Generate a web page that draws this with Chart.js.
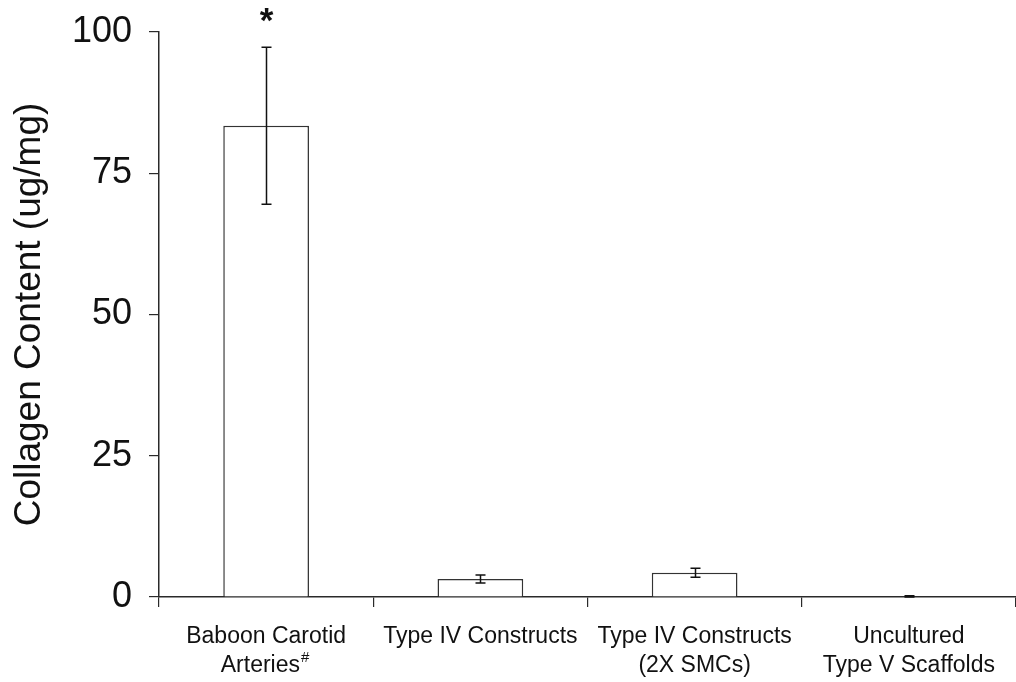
<!DOCTYPE html>
<html>
<head>
<meta charset="utf-8">
<script src="https://cdn.jsdelivr.net/npm/chart.js@4"></script>
<style>
  html, body { margin: 0; padding: 0; background: #ffffff; }
  #wrap { width: 1016px; height: 682px; }
</style>
</head>
<body>
<div id="wrap"><canvas id="c" width="1016" height="682"></canvas></div>
<script>
// Collagen content per sample group (ug/mg), mean and standard deviation
const categories = [
  ["Baboon Carotid", "Arteries\u2002"],
  ["Type IV Constructs"],
  ["Type IV Constructs", "(2X SMCs)"],
  ["Uncultured", "Type V Scaffolds"]
];
const collagenMean = [83.4, 3.2, 4.3, 0.1];
const collagenSD = [13.9, 0.7, 0.8, 0.1];
const yTicks = [0, 25, 50, 75, 100];
const significanceMarks = ["*", "", "", ""];
const footnoteMarks = ["#", "", "", ""];

const FONT = "'Liberation Sans', Arial, sans-serif";
const AXIS_COLOR = "#2a2a2a";
const X_FONT_SIZE = 23;
const X_LINE_HEIGHT = 29;
const X_TICK_LEN = 10;
const X_TICK_PAD = 15;

// Error bars (mean ± SD) with short caps, plus the significance asterisk
const errorBarPlugin = {
  id: "errorBars",
  afterDatasetsDraw(chart) {
    const { ctx, scales: { y } } = chart;
    const meta = chart.getDatasetMeta(0);
    ctx.save();
    ctx.strokeStyle = "#111111";
    ctx.lineWidth = 1.5;
    meta.data.forEach((bar, i) => {
      const hi = y.getPixelForValue(collagenMean[i] + collagenSD[i]);
      const lo = y.getPixelForValue(Math.max(0, collagenMean[i] - collagenSD[i]));
      const x = Math.round(bar.x) + 0.5;
      const cap = 5;
      ctx.beginPath();
      ctx.moveTo(x, hi); ctx.lineTo(x, lo);
      ctx.moveTo(x - cap, hi); ctx.lineTo(x + cap, hi);
      ctx.moveTo(x - cap, lo); ctx.lineTo(x + cap, lo);
      ctx.stroke();
      if (significanceMarks[i]) {
        ctx.fillStyle = "#111111";
        ctx.font = "bold 35px " + FONT;
        ctx.textAlign = "center";
        ctx.textBaseline = "alphabetic";
        ctx.fillText(significanceMarks[i], x, hi - 15);
      }
    });
    ctx.restore();
  }
};

// Superscript footnote marker after the second line of a category label
const footnotePlugin = {
  id: "footnotes",
  afterDraw(chart) {
    const { ctx, scales: { x } } = chart;
    ctx.save();
    ctx.fillStyle = "#111111";
    ctx.textBaseline = "middle";
    ctx.textAlign = "left";
    footnoteMarks.forEach((mark, i) => {
      if (!mark) return;
      const lines = categories[i];
      const last = lines[lines.length - 1];
      ctx.font = X_FONT_SIZE + "px " + FONT;
      const full = ctx.measureText(last).width;
      const core = ctx.measureText(last.trimEnd()).width;
      const cx = x.getPixelForValue(i);
      const startX = cx - full / 2 + core + 1;
      const lineMid = x.top + X_TICK_LEN + X_TICK_PAD + X_LINE_HEIGHT * (lines.length - 0.5);
      ctx.font = "15px " + FONT;
      ctx.fillText(mark, startX, lineMid - 8);
    });
    ctx.restore();
  }
};

new Chart(document.getElementById("c"), {
  type: "bar",
  data: {
    labels: categories,
    datasets: [{
      data: collagenMean,
      backgroundColor: "#ffffff",
      borderColor: "#333333",
      borderWidth: 1.5,
      borderSkipped: "bottom",
      categoryPercentage: 1.0,
      barPercentage: 0.4
    }]
  },
  options: {
    responsive: false,
    animation: false,
    events: [],
    layout: { padding: { top: 32, right: 0, bottom: 0, left: 0 } },
    plugins: {
      legend: { display: false },
      tooltip: { enabled: false }
    },
    scales: {
      x: {
        offset: true,
        grid: {
          offset: true,
          drawOnChartArea: false,
          drawTicks: true,
          tickLength: X_TICK_LEN,
          color: AXIS_COLOR,
          lineWidth: 1.2
        },
        border: { display: true, color: AXIS_COLOR, width: 1.5 },
        ticks: {
          color: "#111111",
          font: { family: FONT, size: X_FONT_SIZE, lineHeight: X_LINE_HEIGHT / X_FONT_SIZE },
          padding: X_TICK_PAD,
          maxRotation: 0,
          autoSkip: false
        },
        afterFit(scale) {
          scale.height = 85;
          scale.paddingLeft = 0;
          scale.paddingRight = 0;
        }
      },
      y: {
        min: 0,
        max: 100,
        afterBuildTicks(scale) { scale.ticks = yTicks.map(v => ({ value: v })); },
        grid: {
          drawOnChartArea: false,
          drawTicks: true,
          tickLength: 10,
          color: AXIS_COLOR,
          lineWidth: 1.2
        },
        border: { display: true, color: AXIS_COLOR, width: 1.5 },
        ticks: {
          color: "#111111",
          font: { family: FONT, size: 36 },
          padding: 17
        },
        title: {
          display: true,
          text: "Collagen Content (ug/mg)",
          color: "#111111",
          font: { family: FONT, size: 37, lineHeight: 1.2 },
          padding: { top: 8, bottom: 0 }
        },
        afterFit(scale) {
          scale.width = 159;
          scale.paddingTop = 0;
          scale.paddingBottom = 0;
        }
      }
    }
  },
  plugins: [errorBarPlugin, footnotePlugin]
});
</script>
</body>
</html>
